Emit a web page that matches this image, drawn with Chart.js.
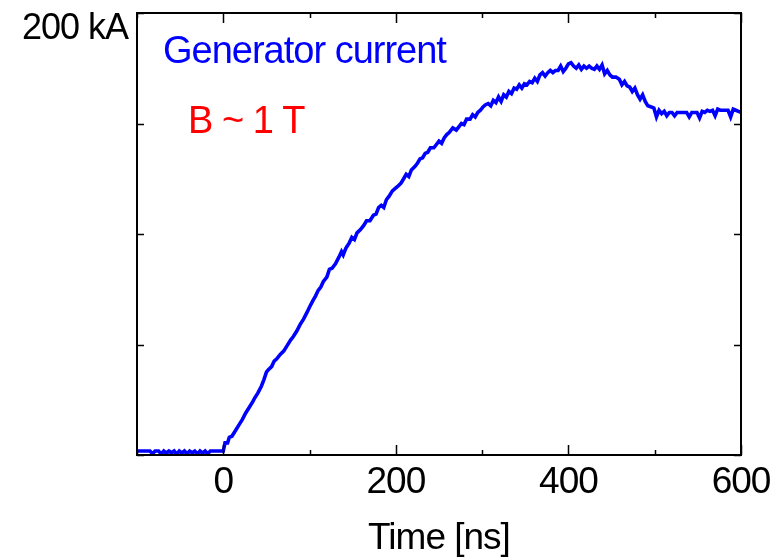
<!DOCTYPE html>
<html>
<head>
<meta charset="utf-8">
<script src="https://cdn.jsdelivr.net/npm/chart.js@4.4.1/dist/chart.umd.min.js"></script>
<style>
  html, body { margin: 0; padding: 0; background: #fff; }
  #wrap { width: 775px; height: 558px; }
</style>
</head>
<body>
<div id="wrap"><canvas id="chart" width="775" height="558"></canvas></div>
<script>
// generator current trace (ns, kA)
const timeNs = [
  -100, -95, -90, -85, -82, -79, -75, -72, -69, -66, -63, -60, -57, -54, -51, -48, -45, -42, -39, -36,
  -33, -30, -27, -24, -21, -18, -15, -10, -5, 0,
  2, 5, 7, 10, 14, 18, 22, 26, 30, 34, 36, 40, 44, 47, 50, 52, 56, 59, 62, 66,
  70, 74, 78, 81, 85, 89, 93, 97, 100, 104, 107, 110, 113, 116, 120, 123, 126, 130, 134, 137,
  139, 142, 146, 149, 152, 155, 159, 163, 166, 170, 174, 177, 180, 183, 186, 189, 192, 196, 199, 202,
  206, 209, 212, 215, 218, 222, 225, 228, 231, 234, 237, 240, 244, 247, 250, 253, 256, 259, 262, 266,
  270, 273, 276, 279, 282, 286, 289, 292, 295, 298, 301, 304, 307, 310, 313, 316, 319, 322, 325, 328,
  331, 334, 337, 340, 343, 346, 349, 352, 355, 358, 361, 364, 367, 370, 373, 376, 379, 382, 385, 388,
  391, 394, 397, 400, 403, 406, 409, 412, 415, 418, 421, 424, 427, 430, 433, 436, 439, 442, 445, 448,
  451, 455, 459, 462, 465, 468, 471, 474, 477, 480, 483, 486, 489, 492, 496, 499, 502, 505, 508, 511,
  514, 517, 520, 523, 526, 530, 534, 537, 540, 543, 546, 549, 552, 555, 558, 561, 564, 567, 570, 573,
  576, 579, 582, 585, 588, 591, 594, 597, 600
];
const currentKA = [
  1.8, 1.8, 1.8, 1.8, 0.6, 1.8, 1.8, 0.5, 1.8, 0.8, 1.8, 1.0, 1.8, 0.4, 1.8, 0.9, 1.8, 0.6, 1.8, 1.0,
  1.8, 0.5, 1.8, 0.8, 1.8, 0.6, 1.8, 1.8, 1.8, 1.8,
  5.5, 5.5, 8, 8.5, 11, 13.5, 16, 19, 21.5, 24, 25.5, 28, 31, 34, 37.5, 38.5, 40, 42.5, 43.5, 45.5,
  47, 49.5, 52, 53.5, 56, 59, 61.5, 64.5, 67, 70, 72, 74.5, 76, 78.5, 80.5, 84, 84.5, 86.5, 89.5, 92,
  90.5, 93.5, 96, 98.5, 97.5, 100.5, 102, 104, 106, 106, 108.5, 109, 112, 113, 112, 115.5, 117, 119.5, 120.5, 121.5,
  123, 125, 127, 126, 129, 130.5, 132, 134, 134.5, 136.5, 137, 139, 139, 140.5, 142, 141, 143.5, 145, 146, 148,
  147, 148.5, 150, 149.5, 152, 152, 154, 153, 155, 156, 157.5, 158.5, 159, 158, 160.5, 159.5, 162, 160, 163, 162,
  164.5, 163.5, 166, 165.5, 167.5, 166, 168, 167.5, 169, 168.5, 170.5, 169, 172, 173, 171.5, 173, 174, 173, 174, 174,
  176, 173.5, 175, 177, 177.5, 176, 175, 176.5, 174.5, 176, 175, 176, 175, 174.5, 176, 174.5, 176.5, 172.5, 174, 172,
  171, 171, 170, 167.5, 169, 167, 166.5, 164.5, 166, 163, 161, 163, 160, 158, 157.5, 157, 153, 156, 154.5, 155.5,
  153.5, 155, 155, 153.5, 155, 155, 155, 155, 153, 155, 155, 155, 152.5, 155.5, 155, 156, 155.5, 156, 153.5, 156.5,
  156, 156, 156, 156, 153, 156.5, 156, 155.5, 155
];

const xMin = -100, xMax = 600;
const yMin = 0, yMax = 200;
const xTickValues = [-100, 0, 100, 200, 300, 400, 500, 600];
const xLabelValues = [0, 200, 400, 600];
const yTickValues = [0, 50, 100, 150, 200];
const yTopLabel = "200 kA";
const xTitle = "Time [ns]";
const seriesName = "Generator current";
const fieldNote = "B ~ 1 T";

const FONT = "'Liberation Sans', Arial, sans-serif";

// frame, inward ticks and all texts
const framePlugin = {
  id: 'frame',
  afterDatasetsDraw(chart) {
    const { ctx, chartArea: a, scales } = chart;
    const xs = scales.x, ys = scales.y;
    ctx.save();
    ctx.strokeStyle = '#000';
    ctx.lineWidth = 2;
    ctx.strokeRect(a.left, a.top, a.right - a.left, a.bottom - a.top);

    ctx.lineWidth = 1.5;
    ctx.beginPath();
    xTickValues.forEach(v => {
      const px = Math.round(xs.getPixelForValue(v)) + 0.5;
      const len = v % 200 === 0 ? 10 : 5;
      ctx.moveTo(px, a.bottom); ctx.lineTo(px, a.bottom - len);
      ctx.moveTo(px, a.top); ctx.lineTo(px, a.top + len);
    });
    yTickValues.forEach(v => {
      const py = Math.round(ys.getPixelForValue(v)) + 0.5;
      ctx.moveTo(a.left, py); ctx.lineTo(a.left + 7, py);
      ctx.moveTo(a.right, py); ctx.lineTo(a.right - 7, py);
    });
    ctx.stroke();

    ctx.fillStyle = '#000';
    ctx.letterSpacing = '-1px';
    ctx.textBaseline = 'alphabetic';
    ctx.font = '37px ' + FONT;
    ctx.textAlign = 'center';
    xLabelValues.forEach(v => {
      ctx.fillText(String(v), xs.getPixelForValue(v), a.bottom + 38);
    });
    ctx.fillText(xTitle, (a.left + a.right) / 2, a.bottom + 94);

    ctx.font = '36px ' + FONT;
    ctx.textAlign = 'right';
    ctx.fillText(yTopLabel, a.left - 9, ys.getPixelForValue(yMax) + 26);

    ctx.font = '38px ' + FONT;
    ctx.textAlign = 'left';
    ctx.fillStyle = '#0000ff';
    ctx.fillText(seriesName, a.left + 26, a.top + 50);
    ctx.fillStyle = '#ff0000';
    ctx.fillText(fieldNote, a.left + 51, a.top + 120);
    ctx.restore();
  }
};

const points = timeNs.map((t, i) => ({ x: t, y: currentKA[i] }));

new Chart(document.getElementById('chart'), {
  type: 'line',
  data: {
    datasets: [{
      label: seriesName,
      data: points,
      borderColor: '#0000ff',
      borderWidth: 3.6,
      pointRadius: 0,
      tension: 0,
      fill: false
    }]
  },
  options: {
    responsive: false,
    animation: false,
    layout: { padding: { left: 137, right: 34, top: 13, bottom: 103 } },
    plugins: { legend: { display: false }, tooltip: { enabled: false } },
    scales: {
      x: { type: 'linear', min: xMin, max: xMax, display: false },
      y: { type: 'linear', min: yMin, max: yMax, display: false }
    }
  },
  plugins: [framePlugin]
});
</script>
</body>
</html>
